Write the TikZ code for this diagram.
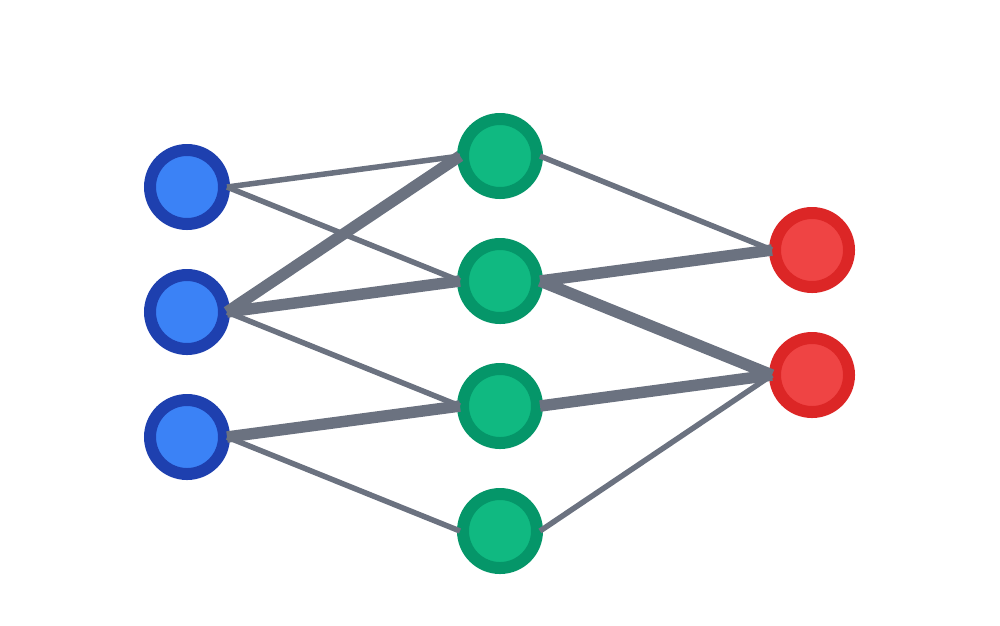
\documentclass[tikz,border=0pt]{standalone}
\usetikzlibrary{positioning}

\definecolor{inring}{HTML}{1E40AF}
\definecolor{infill}{HTML}{3B82F6}
\definecolor{hidring}{HTML}{059669}
\definecolor{hidfill}{HTML}{10B981}
\definecolor{outring}{HTML}{DC2626}
\definecolor{outfill}{HTML}{EF4444}
\definecolor{edgegray}{HTML}{6B7280}

\tikzset{
    neuron/.style={circle, inner sep=0pt, minimum size=0.74cm, line width=0.12cm},
    inneuron/.style={neuron, draw=inring, fill=infill},
    hidneuron/.style={neuron, draw=hidring, fill=hidfill},
    outneuron/.style={neuron, draw=outring, fill=outfill},
    weak/.style={draw=edgegray, line width=0.055cm},
    strong/.style={draw=edgegray, line width=0.115cm}
}

\begin{document}
\begin{tikzpicture}
    \useasboundingbox (0,0) rectangle (10,6.25);

    % 输入层
    \foreach \i/\y in {1/4.38, 2/3.13, 3/1.88} {
        \node[inneuron] (in\i) at (1.87, \y) {};
    }

    % 隐藏层
    \foreach \i/\y in {1/4.69, 2/3.44, 3/2.19, 4/0.94} {
        \node[hidneuron] (h\i) at (5.00, \y) {};
    }

    % 输出层
    \foreach \i/\y in {1/3.75, 2/2.50} {
        \node[outneuron] (out\i) at (8.12, \y) {};
    }

    % 细连接
    \foreach \a/\b in {in1/h1, in1/h2, in2/h3, in3/h4, h1/out1, h4/out2} {
        \draw[weak] ([xshift=0.4cm]\a.center) -- ([xshift=-0.4cm]\b.center);
    }

    % 粗连接
    \foreach \a/\b in {in2/h1, in2/h2, in3/h3, h2/out1, h2/out2, h3/out2} {
        \draw[strong] ([xshift=0.4cm]\a.center) -- ([xshift=-0.4cm]\b.center);
    }
\end{tikzpicture}
\end{document}
